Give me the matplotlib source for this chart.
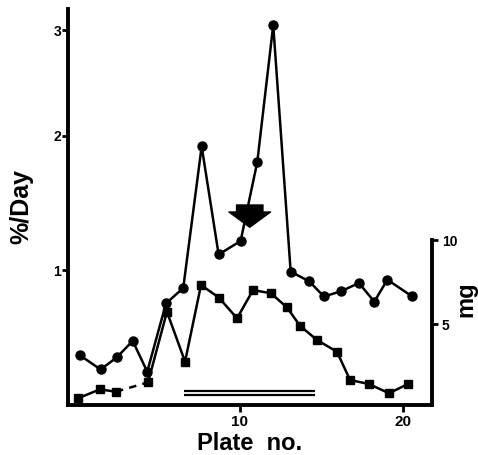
import numpy as np
import matplotlib
matplotlib.use("Agg")
import matplotlib.pyplot as plt

plt.rcParams['font.family'] = ['Liberation Sans', 'DejaVu Sans']
plt.rcParams['font.weight'] = 'bold'

# growth rate (%/Day), circles
rate_x = [0.18, 1.45, 2.44, 3.42, 4.31, 5.46, 6.52, 7.65, 8.69, 10.04,
          11.06, 12.04, 13.11, 14.25, 15.15, 16.18, 17.30, 18.24, 19.04, 20.57]
rate_y = [0.53, 0.465, 0.52, 0.60, 0.455, 0.80, 0.89, 1.91, 1.10, 1.19,
          1.78, 3.05, 0.99, 0.93, 0.84, 0.87, 0.92, 0.81, 0.94, 0.84]

# weight (mg), squares
mg_x = [0.06, 1.41, 2.39, 4.36, 5.52, 6.63, 7.61, 8.71, 9.82, 10.80,
        11.90, 12.88, 13.68, 14.72, 15.95, 16.75, 17.91, 19.14, 20.31]
mg_y = [0.58, 1.11, 0.97, 1.53, 5.73, 2.76, 7.32, 6.57, 5.34, 7.02,
        6.83, 5.99, 4.90, 4.05, 3.35, 1.67, 1.43, 0.88, 1.43]

x_ticks = [10, 20]
left_ticks = [1, 2, 3]
right_ticks = [5, 10]

P = 0.55
def fwd(v):
    v = np.asarray(v, dtype=float)
    return np.sign(v) * np.abs(v) ** P
def inv(u):
    u = np.asarray(u, dtype=float)
    return np.sign(u) * np.abs(u) ** (1 / P)

fig = plt.figure(figsize=(4.78, 4.55), dpi=100)
ax = fig.add_axes([68 / 478, 1 - 405 / 455, (432 - 68) / 478, (405 - 9) / 455])
ax.set_yscale('function', functions=(fwd, inv))
ax.set_xlim(-0.55, 21.78)
ax.set_ylim(0.319, 3.22)

ax2 = ax.twinx()
ax2.set_ylim(0.18, 23.75)

lw_sp = 2.8
for a in (ax, ax2):
    a.patch.set_visible(False)
    for s in a.spines.values():
        s.set_visible(False)
ax.spines['left'].set_visible(True)
ax.spines['left'].set_linewidth(lw_sp)
ax.spines['bottom'].set_visible(True)
ax.spines['bottom'].set_linewidth(lw_sp)
ax2.spines['right'].set_visible(True)
ax2.spines['right'].set_linewidth(lw_sp)
ax2.spines['right'].set_bounds(0.18, 10)

ax.plot(rate_x, rate_y, color='black', lw=1.8, marker='o', ms=6.5, zorder=3)

# squares: solid, dashed gap, solid
ax2.plot(mg_x[:3], mg_y[:3], color='black', lw=1.8, marker='s', ms=5.5)
ax2.plot(mg_x[2:4], mg_y[2:4], color='black', lw=1.8, ls=(0, (3, 2.5)))
ax2.plot(mg_x[3:], mg_y[3:], color='black', lw=1.8, marker='s', ms=5.5)

# double bar
ax2.hlines([1.03, 0.77], 6.56, 14.6, color='black', lw=1.6)

# arrow
ax.annotate('', xy=(10.6, 1.285), xytext=(10.6, 1.446),
            arrowprops=dict(arrowstyle='simple,head_width=3.0,head_length=1.1,tail_width=1.9',
                            fc='black', ec='black', mutation_scale=10,
                            shrinkA=0, shrinkB=0))

ax.set_xticks(x_ticks)
ax.set_xticklabels([str(t) for t in x_ticks], fontsize=11, fontweight='bold')
ax.set_yticks(left_ticks)
ax.set_yticklabels([str(t) for t in left_ticks], fontsize=10, fontweight='bold')
ax.yaxis.set_minor_locator(matplotlib.ticker.NullLocator())
ax.tick_params(axis='x', direction='out', length=5, width=2, pad=2)
ax.tick_params(axis='y', direction='out', length=4, width=2, pad=1)

ax2.set_yticks(right_ticks)
ax2.set_yticklabels([str(t) for t in right_ticks], fontsize=10, fontweight='bold')
ax2.tick_params(axis='y', direction='out', length=4, width=2, pad=3)

ax.set_xlabel('Plate  no.', fontsize=17, fontweight='bold', labelpad=2)
ax.set_ylabel('%/Day', fontsize=18, fontweight='bold', labelpad=14)
fig.text(466 / 478, 1 - 299 / 455, 'mg', fontsize=17, fontweight='bold',
         rotation=90, ha='center', va='center')

fig.savefig('out.png', dpi=100)
